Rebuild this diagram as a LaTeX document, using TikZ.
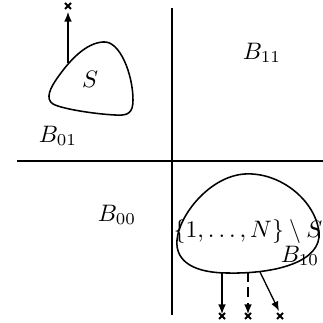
\documentclass[tikz,border=0pt]{standalone}
\usetikzlibrary{arrows.meta,calc}
\begin{document}
\begin{tikzpicture}[x=0.42pt,y=-0.42pt,
  axis/.style={line width=0.65pt},
  blob/.style={line width=0.65pt},
  arr/.style={line width=0.55pt,-{Latex[length=4pt,width=3.2pt]}},
  xmark/.style={line width=0.75pt}]
\useasboundingbox (0,0) rectangle (323,323);
% axes
\coordinate (vt) at (172,8);
\coordinate (vb) at (172,315);
\coordinate (hl) at (17,161);
\coordinate (hr) at (323,161);
\draw[axis] (vt) -- (vb);
\draw[axis] (hl) -- (hr);
% blob S
\draw[blob] (103,42) .. controls (120,40) and (133,75) .. (133,100)
  .. controls (133,113) and (128,116) .. (115,115)
  .. controls (95,114) and (62,109) .. (53,104)
  .. controls (45,99) and (50,88) .. (58,77)
  .. controls (70,60) and (86,43) .. (103,42) -- cycle;
% blob complement
\draw[blob] (245,174) .. controls (280,172) and (315,200) .. (319,232)
  .. controls (322,262) and (275,274) .. (228,273)
  .. controls (195,273) and (175,262) .. (177,240)
  .. controls (179,215) and (210,176) .. (245,174) -- cycle;
% labels
\node (S) at (90,79) {$S$};
\node (B01) at (58,136) {$B_{01}$};
\node (B11) at (262,53) {$B_{11}$};
\node (B00) at (117,215) {$B_{00}$};
\node (C) at (248,232) {$\{1,\ldots,N\}\setminus S$};
\node (B10) at (300,256) {$B_{10}$};
% top arrow
\coordinate (a0) at (68,63);
\coordinate (a1) at (68,12);
\coordinate (x0) at (68,6);
\draw[arr] (a0) -- (a1);
\draw[xmark] ($(x0)+(-3,-3)$) -- ($(x0)+(3,3)$) ($(x0)+(-3,3)$) -- ($(x0)+(3,-3)$);
% bottom arrows
\coordinate (b0) at (222,273);
\coordinate (b1) at (222,314);
\coordinate (y1) at (222,316);
\coordinate (c0) at (248,272);
\coordinate (c1) at (248,314);
\coordinate (y2) at (248,316);
\coordinate (d0) at (260,272);
\coordinate (d1) at (279,311);
\coordinate (y3) at (280,316);
\draw[arr] (b0) -- (b1);
\draw[arr,dash pattern=on 4pt off 2.5pt] (c0) -- (c1);
\draw[arr] (d0) -- (d1);
\foreach \p in {y1,y2,y3}{
  \draw[xmark] ($(\p)+(-3,-3)$) -- ($(\p)+(3,3)$) ($(\p)+(-3,3)$) -- ($(\p)+(3,-3)$);
}
\end{tikzpicture}
\end{document}
